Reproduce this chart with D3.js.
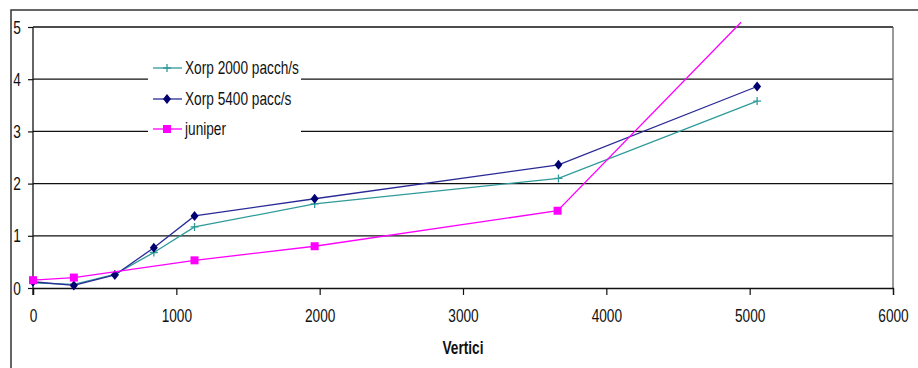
<!DOCTYPE html>
<html><head><meta charset="utf-8">
<script src="https://cdn.jsdelivr.net/npm/d3@7"></script>
<style>
body{margin:0;background:#fff;}
svg{display:block;}
text{font-family:"Liberation Sans Narrow","Arial Narrow","Liberation Sans",Arial,sans-serif;}
</style></head>
<body><svg id="c" width="918" height="368"></svg>
<script>
const xTicks = [0,1000,2000,3000,4000,5000,6000];
const yTicks = [0,1,2,3,4,5];
const xorp2000X = [0,285,571,843,1127,1965,3666,5052];
const xorp2000Y = [0.10,0.07,0.26,0.68,1.17,1.61,2.10,3.58];
const xorp5400X = [0,285,571,843,1127,1965,3666,5052];
const xorp5400Y = [0.12,0.05,0.25,0.77,1.38,1.71,2.36,3.86];
const juniperX = [0,285,1127,1965,3660,4940];
const juniperY = [0.15,0.20,0.53,0.80,1.48,5.09];
const seriesNames = ["Xorp 2000 pacch/s","Xorp 5400 pacc/s","juniper"];
const xTitle = "Vertici";

const SX = 0.76, FS = 18;
function narrow(sel){
  sel.each(function(){
    const t = d3.select(this);
    const xx = +t.attr("x") || 0;
    t.attr("x", xx/SX).attr("transform", `scale(${SX},1)`).attr("font-size", FS);
  });
}

const svg = d3.select("#c");
const L=33, R=893, T=27, B=288;
const x = d3.scaleLinear().domain([0,6000]).range([L,R]);
const y = d3.scaleLinear().domain([0,5]).range([B,T]);

svg.append("path").attr("d","M11,368 L11,10 L918,10").attr("fill","none").attr("stroke","#333").attr("stroke-width",1.5);

svg.append("g").selectAll("line").data(yTicks.filter(d=>d>0)).join("line")
  .attr("x1",L).attr("x2",R).attr("y1",d=>y(d)).attr("y2",d=>y(d))
  .attr("stroke","#111").attr("stroke-width",1.3);
svg.append("line").attr("x1",R).attr("x2",R).attr("y1",T).attr("y2",B).attr("stroke","#555").attr("stroke-width",1.2);

const xAxis = d3.axisBottom(x).tickValues(xTicks).tickSize(7).tickFormat(d3.format("d"));
const gx = svg.append("g").attr("transform",`translate(0,${B})`).call(xAxis);
const yAxis = d3.axisLeft(y).tickValues(yTicks).tickSize(5).tickFormat(d3.format("d"));
const gy = svg.append("g").attr("transform",`translate(${L},0)`).call(yAxis);
[gx,gy].forEach(g=>{
  g.select(".domain").attr("stroke","#111").attr("stroke-width",1.3);
  g.selectAll(".tick line").attr("stroke","#111").attr("stroke-width",1.2);
  g.selectAll("text").attr("fill","#111");
});
gy.select(".domain").attr("d",`M-0,${B+7}V${T}`);
gx.selectAll("text").attr("y",34).attr("dy",0);
gy.selectAll("text").attr("x",-16).attr("y",6).attr("dy",0).attr("text-anchor","middle");
narrow(gx.selectAll("text"));
narrow(gy.selectAll("text"));

const xt = svg.append("text").attr("x",463).attr("y",354).attr("text-anchor","middle")
  .attr("font-weight","bold").attr("fill","#111").text(xTitle);
narrow(xt);

svg.append("clipPath").attr("id","pc").append("rect").attr("x",L-6).attr("y",T-1).attr("width",R-L+12).attr("height",B-T+8);

const series = [
  {name:seriesNames[0], xs:xorp2000X, ys:xorp2000Y, line:"#2f9a9a", mark:"#2f9a9a", type:"plus"},
  {name:seriesNames[1], xs:xorp5400X, ys:xorp5400Y, line:"#2a2a96", mark:"#000070", type:"diamond"},
  {name:seriesNames[2], xs:juniperX, ys:juniperY, line:"#ff00ff", mark:"#ff00ff", type:"square"}
];
const lineGen = d3.line().x(d=>x(d[0])).y(d=>y(d[1]));

function marker(g, type, color){
  if(type==="plus"){
    g.append("path").attr("d","M-4,0H4M0,-4V4").attr("stroke",color).attr("stroke-width",1.3);
  } else if(type==="diamond"){
    g.append("path").attr("d","M0,-5L4,0L0,5L-4,0Z").attr("fill",color);
  } else {
    g.append("rect").attr("x",-4).attr("y",-4).attr("width",8).attr("height",8).attr("fill",color);
  }
}

series.forEach(s=>{
  const pts = s.xs.map((v,i)=>[v,s.ys[i]]);
  svg.append("path").datum(pts).attr("d",lineGen).attr("fill","none").attr("stroke",s.line).attr("stroke-width",1.3);
  const mg = svg.append("g").attr("clip-path","url(#pc)");
  pts.filter(p=>p[1]<=5).forEach(p=>{
    const g = mg.append("g").attr("transform",`translate(${x(p[0])},${y(p[1])})`);
    marker(g,s.type,s.mark);
  });
});

const lg = svg.append("g");
lg.append("rect").attr("x",148).attr("y",50).attr("width",153).attr("height",92).attr("fill","#fff");
const ly = [68,99,129];
series.forEach((s,i)=>{
  lg.append("line").attr("x1",153).attr("x2",182).attr("y1",ly[i]).attr("y2",ly[i]).attr("stroke",s.line).attr("stroke-width",1.3);
  const g = lg.append("g").attr("transform",`translate(167,${ly[i]})`);
  marker(g,s.type,s.mark);
  const t = lg.append("text").attr("x",185).attr("y",ly[i]+6).attr("fill","#111").text(s.name);
  narrow(t);
});
</script></body></html>
